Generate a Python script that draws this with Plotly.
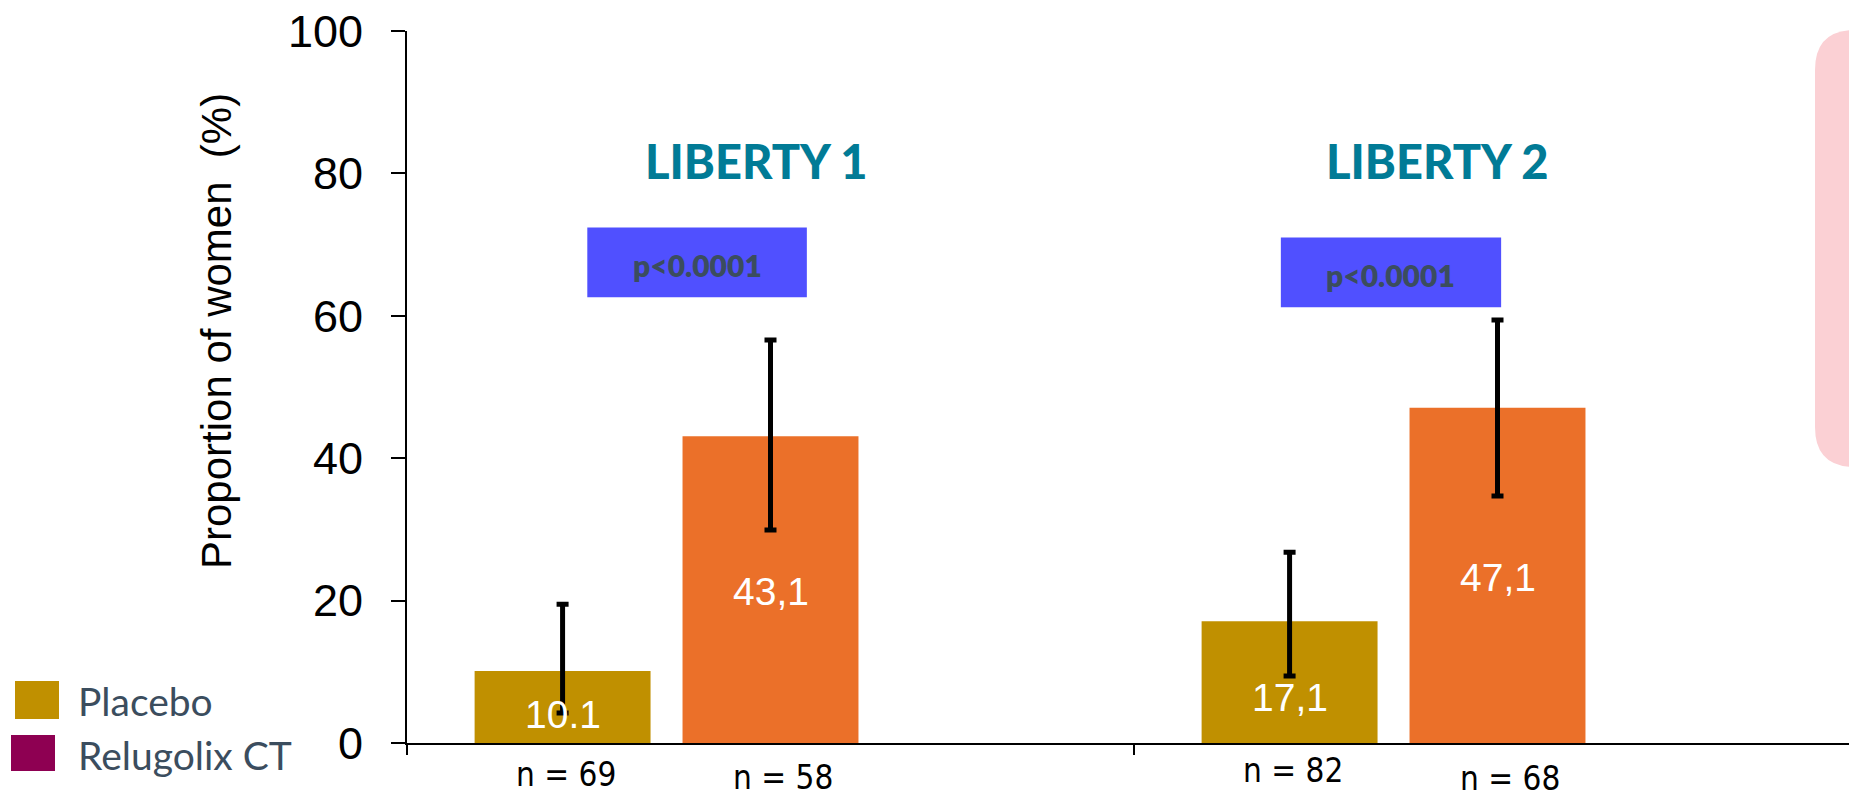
import plotly.graph_objects as go

# Study groups and sample sizes
studies = ["LIBERTY 1", "LIBERTY 2"]
placebo_n = [69, 82]
relugolix_n = [58, 68]

# Proportion of women (%) with 95% confidence limits
placebo_pct = [10.1, 17.1]
placebo_lo = [4.2, 9.4]
placebo_hi = [19.5, 26.8]
placebo_labels = ["10.1", "17,1"]

relugolix_pct = [43.1, 47.1]
relugolix_lo = [29.9, 34.7]
relugolix_hi = [56.6, 59.4]
relugolix_labels = ["43,1", "47,1"]

p_values = ["p<0.0001", "p<0.0001"]

y_ticks = [0, 20, 40, 60, 80, 100]

# Figure geometry (pixels)
W, H = 1849, 791
L, R, T, B = 407, 0, 31, 48
PW, PH = W - L - R, H - T - B


def px(x):
    return (x - L) / PW


def py(y):
    return (H - B - y) / PH


PLACEBO_COL = "#C09000"
RELUGOLIX_COL = "#EB7029"
LEGEND_RELUGOLIX_COL = "#8E0052"
TEAL = "#017B96"
SLATE = "#3B4D5E"

BAR_W = 0.242
PLACEBO_OFF = -0.286
RELUGOLIX_OFF = 0.0

idx = list(range(len(studies)))
xp = [i + PLACEBO_OFF for i in idx]
xr = [i + RELUGOLIX_OFF for i in idx]

fig = go.Figure()

fig.add_trace(go.Bar(
    x=xp, y=placebo_pct, width=BAR_W, name="Placebo",
    marker=dict(color=PLACEBO_COL, line=dict(width=0)),
    error_y=dict(type="data", symmetric=False,
                 array=[h - v for h, v in zip(placebo_hi, placebo_pct)],
                 arrayminus=[v - l for l, v in zip(placebo_lo, placebo_pct)],
                 color="black", thickness=5, width=6),
    showlegend=False, hoverinfo="skip",
))
fig.add_trace(go.Bar(
    x=xr, y=relugolix_pct, width=BAR_W, name="Relugolix CT",
    marker=dict(color=RELUGOLIX_COL, line=dict(width=0)),
    error_y=dict(type="data", symmetric=False,
                 array=[h - v for h, v in zip(relugolix_hi, relugolix_pct)],
                 arrayminus=[v - l for l, v in zip(relugolix_lo, relugolix_pct)],
                 color="black", thickness=5, width=6),
    showlegend=False, hoverinfo="skip",
))

annotations = []
shapes = []

# Value labels inside the bars
placebo_shift = [-7, -15]
for i in idx:
    annotations.append(dict(
        x=xp[i], y=placebo_pct[i] / 2, text=placebo_labels[i], showarrow=False,
        yshift=placebo_shift[i],
        font=dict(family="Liberation Sans, Arial", size=39, color="white"),
    ))
    annotations.append(dict(
        x=xr[i], y=relugolix_pct[i] / 2, text=relugolix_labels[i], showarrow=False,
        yshift=-2,
        font=dict(family="Liberation Sans, Arial", size=39, color="white"),
    ))

# Sample sizes below the axis
n_font = dict(family="Liberation Sans Narrow, DejaVu Sans Condensed, Arial", size=33, color="black")
p_yshift = [-31, -27]
r_yshift = [-34, -35]
for i in idx:
    annotations.append(dict(x=xp[i], y=0, text=f"n = {placebo_n[i]}", showarrow=False,
                            yshift=p_yshift[i], xshift=3, font=n_font))
    annotations.append(dict(x=xr[i], y=0, text=f"n = {relugolix_n[i]}", showarrow=False,
                            yshift=r_yshift[i], xshift=12, font=n_font))

# Study titles and p-value boxes
title_x = [-0.02, 0.917]
box_x0 = [-0.252, 0.702]
box_x1 = [0.050, 1.005]
box_y0 = [62.6, 61.2]
box_y1 = [72.4, 71.0]
for i in idx:
    annotations.append(dict(
        x=title_x[i], y=81.8, text=studies[i], showarrow=False,
        font=dict(family="Lato, Inter, sans-serif", size=47, color=TEAL, weight=900),
    ))
    shapes.append(dict(type="rect", xref="x", yref="y",
                       x0=box_x0[i], x1=box_x1[i], y0=box_y0[i], y1=box_y1[i],
                       fillcolor="#5050FF", line=dict(width=0), layer="below"))
    annotations.append(dict(
        x=(box_x0[i] + box_x1[i]) / 2, y=(box_y0[i] + box_y1[i]) / 2 - 0.3,
        text=p_values[i], showarrow=False,
        font=dict(family="Lato, Inter, sans-serif", size=30, color=SLATE, weight=800),
    ))

# Y axis title
annotations.append(dict(
    xref="paper", yref="paper", x=px(216), y=py(331), xanchor="center", yanchor="middle",
    text="Proportion of women  (%)",
    textangle=-90, showarrow=False,
    font=dict(family="Liberation Sans, Arial", size=42, color="black"),
))

# Legend drawn as swatches with labels
legend_items = [("Placebo", PLACEBO_COL, 15, 681, 59, 719, 701),
                ("Relugolix CT", LEGEND_RELUGOLIX_COL, 11, 735, 55, 771, 755)]
for label, col, x0, y0, x1, y1, ty in legend_items:
    shapes.append(dict(type="rect", xref="paper", yref="paper",
                       x0=px(x0), x1=px(x1), y0=py(y1), y1=py(y0),
                       fillcolor=col, line=dict(width=0)))
    annotations.append(dict(xref="paper", yref="paper", x=px(76), y=py(ty),
                            xanchor="left", yanchor="middle", text=label, showarrow=False,
                            font=dict(family="Lato, sans-serif", size=39, color=SLATE)))

# Rounded panel at the right edge
bx0, bx1, by0, by1, rad = 1815, 1900, 30, 467, 40
path = (f"M {px(bx0)},{py(by0 + rad)} "
        f"Q {px(bx0)},{py(by0)} {px(bx0 + rad)},{py(by0)} "
        f"L {px(bx1)},{py(by0)} L {px(bx1)},{py(by1)} "
        f"L {px(bx0 + rad)},{py(by1)} "
        f"Q {px(bx0)},{py(by1)} {px(bx0)},{py(by1 - rad)} Z")
shapes.append(dict(type="path", xref="paper", yref="paper", path=path,
                   fillcolor="#FBD0D4", line=dict(width=0), layer="below"))

x_span = PW / 727.0

fig.update_layout(
    width=W, height=H,
    margin=dict(l=L, r=R, t=T, b=B, pad=0),
    paper_bgcolor="white", plot_bgcolor="white",
    barmode="overlay",
    showlegend=False,
    annotations=annotations,
    shapes=shapes,
    xaxis=dict(range=[-0.5, -0.5 + x_span], showgrid=False, zeroline=False,
               showline=True, linecolor="black", linewidth=2,
               tickmode="array", tickvals=[-0.5, 0.5, 1.5], ticks="outside",
               ticklen=10, tickwidth=2, tickcolor="black", showticklabels=False,
               fixedrange=True),
    yaxis=dict(range=[0, 100], showgrid=False, zeroline=False,
               showline=True, linecolor="black", linewidth=2,
               tickmode="array", tickvals=y_ticks, ticks="outside",
               ticklen=14, tickwidth=2, tickcolor="black",
               ticklabelstandoff=19,
               tickfont=dict(family="Liberation Sans, Arial", size=45, color="black"),
               fixedrange=True),
)

fig.write_html("out.html")
